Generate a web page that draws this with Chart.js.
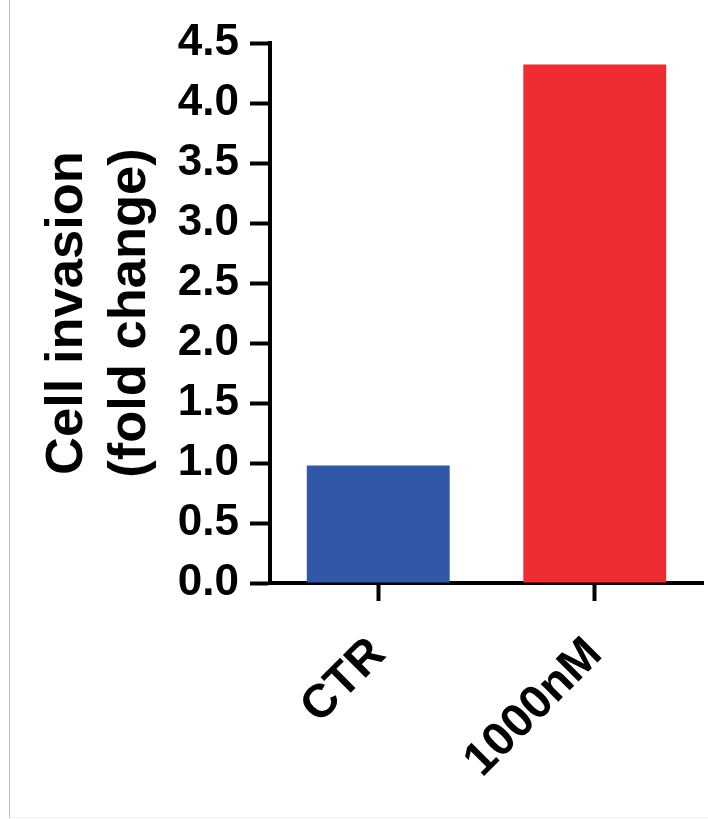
<!DOCTYPE html>
<html>
<head>
<meta charset="utf-8">
<script src="https://cdn.jsdelivr.net/npm/chart.js@4"></script>
<style>
    body { margin: 0; background: #fff; }
    #frame { position: absolute; left: 9px; top: 0; width: 699px; height: 817px; border-left: 1px solid #bdbdbd; border-bottom: 1px solid #efefef; }
    #wrap { position: absolute; left: 0; top: 0; width: 708px; height: 819px; }
</style>
</head>
<body>
<div id="frame"></div>
<div id="wrap"><canvas id="chart" width="708" height="819"></canvas></div>
<script>
var groups = ["CTR", "1000nM"];
var invasion = [0.98, 4.32];
var barColors = ["#3158a6", "#ee2d33"];
var yTitle = ["Cell invasion", "(fold change)"];

new Chart("chart", {
    type: "bar",
    data: {
        labels: groups,
        datasets: [{
            data: invasion,
            backgroundColor: barColors,
            borderWidth: 0,
            barPercentage: 0.66,
            categoryPercentage: 1.0
        }]
    },
    options: {
        responsive: false,
        animation: false,
        events: [],
        layout: { padding: { left: 0, right: 5, top: 43, bottom: 0 } },
        plugins: {
            legend: { display: false },
            tooltip: { enabled: false }
        },
        scales: {
            x: {
                afterFit: function (scale) { scale.height = 236; },
                border: { display: true, color: "#000", width: 4 },
                grid: {
                    offset: false,
                    drawOnChartArea: false,
                    drawTicks: true,
                    tickLength: 18,
                    tickWidth: 4,
                    tickColor: "#000"
                },
                ticks: {
                    color: "#000",
                    maxRotation: 45,
                    minRotation: 45,
                    padding: 26,
                    font: { family: "Liberation Sans, Arial, sans-serif", size: 47, weight: "bold" }
                }
            },
            y: {
                min: 0,
                max: 4.5,
                afterFit: function (scale) { scale.width = 270; },
                border: { display: true, color: "#000", width: 4 },
                grid: {
                    drawOnChartArea: false,
                    drawTicks: true,
                    tickLength: 20,
                    tickWidth: 4,
                    tickColor: "#000"
                },
                ticks: {
                    stepSize: 0.5,
                    color: "#000",
                    padding: 11,
                    font: { family: "Liberation Sans, Arial, sans-serif", size: 44, weight: "bold" },
                    callback: function (value) { return value.toFixed(1); }
                },
                title: {
                    display: true,
                    text: yTitle,
                    color: "#000",
                    padding: { top: 36, bottom: 0 },
                    font: { family: "Liberation Sans, Arial, sans-serif", size: 52.5, weight: "bold", lineHeight: 1.2 }
                }
            }
        }
    }
});
</script>
</body>
</html>
